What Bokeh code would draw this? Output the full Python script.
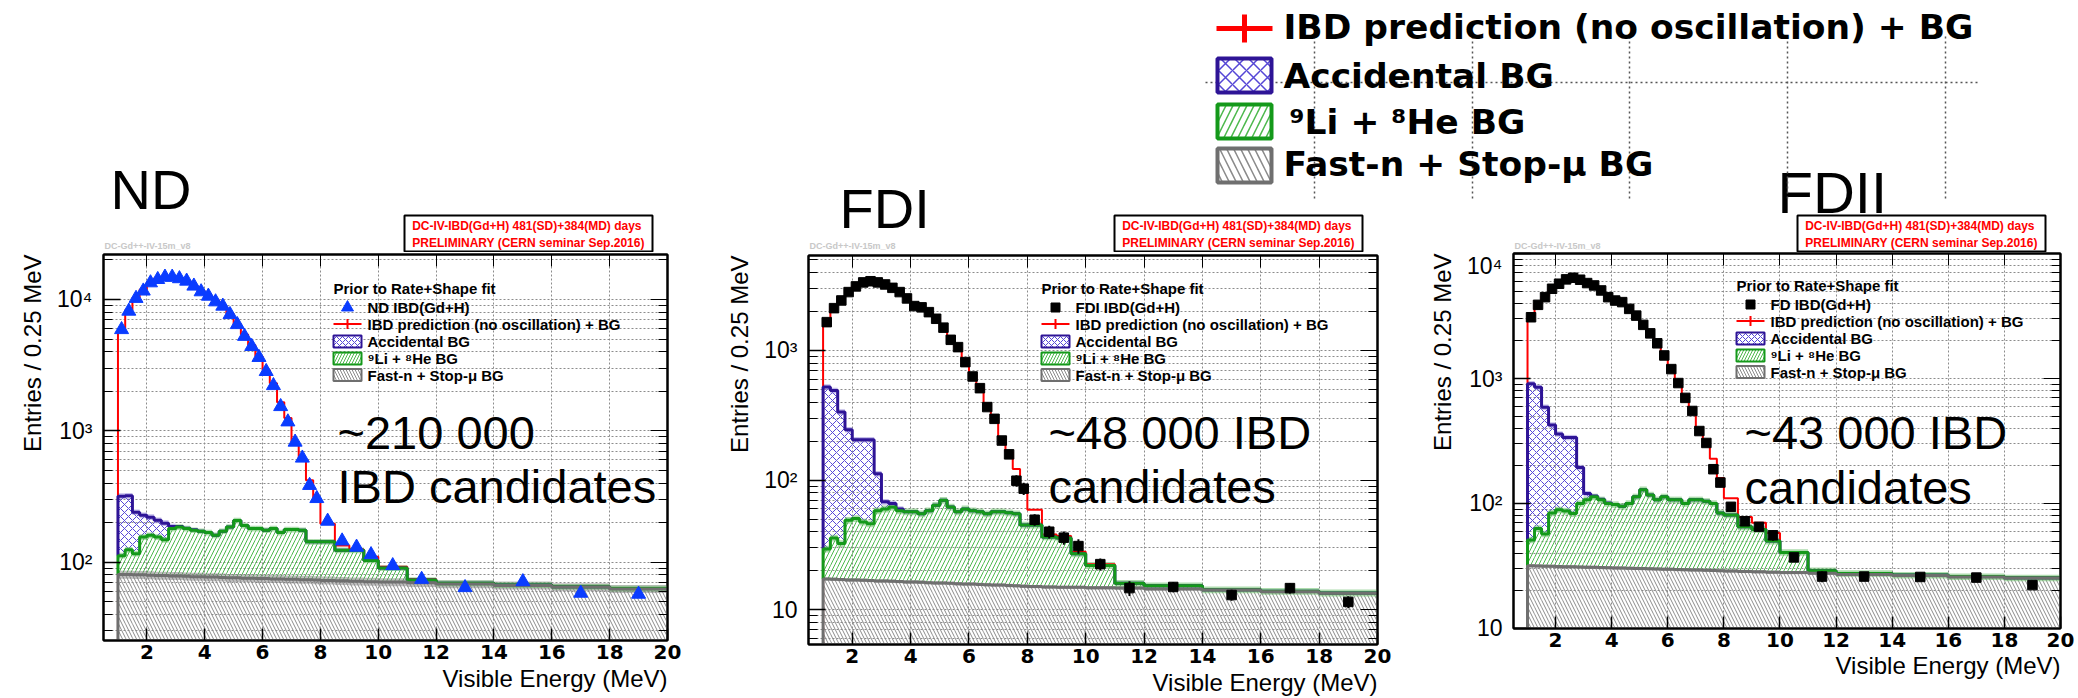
import math
from bokeh.plotting import figure
from bokeh.layouts import column, row
from bokeh.models import Range1d, LinearScale, FixedTicker, LinearAxis, LogAxis, Title
from bokeh.core.properties import value
from bokeh.embed import file_html
from bokeh.resources import INLINE

# ---------------------------------------------------------------- data
bin_edges = [1.0, 1.25, 1.5, 1.75, 2.0, 2.25, 2.5, 2.75, 3.0, 3.25, 3.5, 3.75,
             4.0, 4.25, 4.5, 4.75, 5.0, 5.25, 5.5, 5.75, 6.0, 6.25, 6.5, 6.75,
             7.0, 7.25, 7.5, 7.75, 8.0, 8.5, 9.0, 9.5, 10.0, 11.0, 12.0, 14.0,
             16.0, 18.0, 20.0]
x_tick_values = [2, 4, 6, 8, 10, 12, 14, 16, 18, 20]

# ND (entries / 0.25 MeV)
nd_data = [5900, 8150, 10200, 11600, 13400, 14200, 14800, 14800, 14400, 13800,
           12650, 11450, 10600, 9600, 8900, 7680, 6440, 5240, 4390, 3620,
           2830, 2210, 1530, 1170, 820, 620, 384, 305,
           205, 145, 130, 114, 94, 74, 64, 71, 58, 57]
nd_pred = [5800, 8300, 10300, 11900, 13600, 14500, 15000, 15000, 14600, 13900,
           12800, 11600, 10700, 9800, 8900, 7800, 6500, 5400, 4500, 3700,
           2900, 2300, 1650, 1250, 800, 595, 420, 295,
           196, 134, 125, 110, 92, 74, 69, 67, 65, 63]
nd_fastn = [80.5, 80.5, 80, 80, 79.5, 79, 79, 78.5, 78.5, 78,
            77.5, 77.5, 77, 77, 76.5, 76, 76, 75.5, 75.5, 75,
            75, 74.5, 74.5, 74, 74, 73.5, 73.5, 73,
            72.5, 72, 71.5, 71, 70.5, 69.5, 68, 66.5, 64.5, 62.5]
nd_fastn_li = [112, 124, 116, 155, 160, 155, 148, 180, 185, 180,
               175, 172, 168, 160, 172, 185, 207, 190, 180, 180,
               175, 180, 168, 177, 177, 175, 143, 143,
               143, 123, 123, 103, 90, 73, 69, 67, 65, 63]
nd_bg_total = [318, 320, 240, 227, 220, 208, 198, 187, 187, 181,
               176, 172, 168, 160, 172, 185, 207, 190, 180, 180,
               175, 180, 168, 177, 177, 175, 143, 143,
               143, 123, 123, 103, 90, 73, 69, 67, 65, 63]

# FDI
fd1_data = [1654, 2120, 2430, 2820, 3120, 3350, 3420, 3350, 3230, 3040,
            2820, 2520, 2200, 2150, 1975, 1755, 1500, 1208, 1061, 813,
            630, 512, 366, 297, 202, 158, 99, 86,
            49.5, 40, 36, 31, 22.5, 14.7, 15, 13, 14.7, 11.5]
fd1_pred = [1750, 2200, 2500, 2850, 3150, 3380, 3450, 3400, 3280, 3080,
            2850, 2550, 2250, 2150, 1980, 1780, 1500, 1230, 1060, 830,
            650, 520, 390, 300, 215, 165, 122, 83,
            59, 38, 37, 28, 22.5, 16, 15.3, 14.3, 13.9, 13.5]
fd1_fastn = [17.3, 17.2, 17.1, 17.0, 17.0, 16.9, 16.8, 16.7, 16.7, 16.6,
             16.5, 16.4, 16.4, 16.3, 16.2, 16.1, 16.1, 16.0, 15.9, 15.8,
             15.8, 15.7, 15.6, 15.5, 15.5, 15.4, 15.3, 15.2,
             15.1, 15.0, 14.9, 14.9, 14.8, 14.7, 14.5, 14.2, 13.8, 13.4]
fd1_fastn_li = [29.4, 35.8, 32.5, 49, 50.5, 47.5, 46, 58, 60, 62,
                58, 57, 57, 55, 58, 64, 70, 62, 57, 60,
                58, 57, 55, 57, 57, 56, 55, 45,
                45, 36.5, 35.8, 27, 22, 16, 15.3, 14.3, 13.9, 13.5]
fd1_bg_total = [522, 491, 335, 245, 205, 205, 205, 112, 68, 66,
                60, 57, 57, 55, 58, 64, 70, 62, 57, 60,
                58, 57, 55, 57, 57, 56, 55, 45,
                45, 36.5, 35.8, 27, 22, 16, 15.3, 14.3, 13.9, 13.5]

# FDII
fd2_data = [3095, 3890, 4480, 5230, 5740, 6220, 6410, 6180, 5810, 5560,
            5070, 4480, 4210, 4090, 3610, 3190, 2690, 2300, 1915, 1530,
            1190, 920, 700, 550, 380, 305, 188, 147,
            94, 72, 65, 55.6, 37, 26, 26, 25.8, 25.5, 22.2]
fd2_pred = [3200, 4000, 4550, 5300, 5800, 6300, 6500, 6250, 5900, 5600,
            5150, 4550, 4250, 4100, 3650, 3250, 2750, 2350, 1950, 1560,
            1230, 950, 720, 560, 400, 310, 228, 160,
            110, 78, 70, 58, 40.5, 29, 27.5, 26.7, 26, 25.4]
fd2_fastn = [31.7, 31.6, 31.5, 31.4, 31.3, 31.2, 31.1, 31.0, 30.9, 30.8,
             30.7, 30.6, 30.5, 30.4, 30.3, 30.2, 30.1, 30.0, 29.9, 29.8,
             29.7, 29.6, 29.5, 29.4, 29.3, 29.2, 29.1, 29.0,
             28.8, 28.6, 28.4, 28.2, 28.0, 27.6, 27.0, 26.5, 25.8, 25.3]
fd2_fastn_li = [51, 63, 57, 84, 89, 87, 83, 100, 107, 113,
                107, 100, 98, 95, 100, 113, 129, 117, 107, 113,
                107, 107, 100, 107, 107, 104, 100, 84,
                81, 65, 62, 50, 40.5, 29, 27.5, 26.7, 26, 25.4]
fd2_bg_total = [910, 850, 590, 425, 360, 337, 337, 194, 120, 115,
                108, 101, 98, 95, 100, 113, 129, 117, 107, 113,
                107, 107, 100, 107, 107, 104, 100, 84,
                81, 65, 62, 50, 40.5, 29, 27.5, 26.7, 26, 25.4]

# relative widths of the shaded systematic bands
nd_band = {"fastn": 0.07, "li": 0.05, "acc": 0.05}
fd_band = {"fastn": 0.03, "li": 0.06, "acc": 0.05}

# ---------------------------------------------------------------- styles
HEADER_H = 252
PANEL_H = 698 - HEADER_H
FONT = "Liberation Sans"
RED = "#ff0000"
ACC = dict(line="#2e1496", hatch="#5546d6", pattern="x", scale=8, band="#8a7bd6")
LI = dict(line="#14991a", hatch="#4cb84c", pattern="/", scale=8, band="#6cbf6c")
FASTN = dict(line="#6f6f6f", hatch="#8a8a8a", pattern="\\", scale=7, band="#7d7d7d")

lefts = bin_edges[:-1]
rights = bin_edges[1:]
centers = [(a + b) / 2 for a, b in zip(lefts, rights)]
widths = [b - a for a, b in zip(lefts, rights)]
LEG_OFFS = [19, 35.5, 53, 70, 86.5]


def no_frame_align(p):
    if "frame_align" in p.properties():
        p.frame_align = False


def step_xy(vals, base):
    return [bin_edges[0]] + bin_edges, [base] + list(vals) + [vals[-1]]


def log_ticks(lo, hi):
    majors, minors = [], []
    d = 1
    while d <= 100000:
        if lo <= d <= hi:
            majors.append(d)
        for k in range(2, 10):
            if lo <= k * d <= hi:
                minors.append(k * d)
        d *= 10
    return majors, minors


def make_panel(cfg):
    W = cfg["width"]
    L, R, T, B = cfg["borders"]
    fw, fh = W - L - R, PANEL_H - T - B
    ylo, yhi = cfg["y_range"]
    p = figure(width=W, height=PANEL_H, x_range=Range1d(0.5, 20.0),
               y_range=Range1d(ylo, yhi), y_axis_type="log",
               output_backend="svg", toolbar_location=None,
               min_border_left=L, min_border_right=R, min_border_top=T,
               min_border_bottom=B, outline_line_color="black",
               outline_line_width=2)
    no_frame_align(p)
    p.extra_x_ranges = {"px": Range1d(0, fw)}
    p.extra_y_ranges = {"py": Range1d(0, fh)}
    p.extra_x_scales = {"px": LinearScale()}
    p.extra_y_scales = {"py": LinearScale()}

    # ---- axes / ticks / grid
    xt = FixedTicker(ticks=x_tick_values)
    majors, minors = log_ticks(ylo, yhi)
    yt = FixedTicker(ticks=majors, minor_ticks=minors)
    xa = p.xaxis[0]
    xa.ticker = xt
    xa.major_tick_in, xa.major_tick_out = 12, 0
    xa.minor_tick_in, xa.minor_tick_out = 0, 0
    xa.axis_line_width = 2
    xa.major_tick_line_width = 1.5
    xa.major_label_text_font = "DejaVu Sans"
    xa.major_label_text_font_style = "bold"
    xa.major_label_text_font_size = "20px"
    xa.major_label_text_color = "black"
    xa.major_label_standoff = 4
    ya = p.yaxis[0]
    ya.ticker = yt
    ya.major_tick_in, ya.major_tick_out = 17, 0
    ya.minor_tick_in, ya.minor_tick_out = 9, 0
    ya.axis_line_width = 2
    ya.major_tick_line_width = 1.5
    ya.major_label_overrides = {10: "10", 100: "10²", 1000: "10³", 10000: "10⁴"}
    ya.major_label_text_font = FONT
    ya.major_label_text_font_size = "23px"
    ya.major_label_text_color = "black"
    ya.major_label_standoff = 11
    top = LinearAxis(ticker=xt, major_tick_in=12, major_tick_out=0,
                     minor_tick_in=0, minor_tick_out=0, axis_line_width=2,
                     major_label_text_font_size="1px",
                     major_label_text_color=None, major_label_standoff=0)
    right = LogAxis(ticker=yt, major_tick_in=17, major_tick_out=0,
                    minor_tick_in=9, minor_tick_out=0, axis_line_width=2,
                    major_label_text_font_size="1px",
                    major_label_text_color=None, major_label_standoff=0)
    p.add_layout(top, "above")
    p.add_layout(right, "right")
    p.xgrid.ticker = xt
    p.ygrid.ticker = yt
    for g in (p.xgrid, p.ygrid):
        g.grid_line_color = "#8c8c8c"
        g.grid_line_dash = "2 2"
        g.grid_line_width = 1
    p.ygrid.minor_grid_line_color = "#8c8c8c"
    p.ygrid.minor_grid_line_dash = "2 2"

    # axis titles (ROOT style: right / top aligned)
    p.add_layout(Title(text="Visible Energy (MeV)", align="right", text_font=FONT,
                       text_font_size="24px", text_font_style="normal",
                       text_color="black", standoff=cfg["xlabel_standoff"]), "below")
    p.add_layout(Title(text="Entries / 0.25 MeV", align="right", text_font=FONT,
                       text_font_size="24px", text_font_style="normal",
                       text_color="black", standoff=17), "left")

    fastn, fli, tot = cfg["fastn"], cfg["fastn_li"], cfg["bg_total"]
    floor = ylo * 0.5
    n = len(lefts)
    band = cfg["band"]

    # ---- hatched stacked backgrounds
    p.quad(left=lefts, right=rights, bottom=[floor] * n, top=fastn,
           fill_color=None, line_color=None, hatch_pattern=FASTN["pattern"],
           hatch_color=FASTN["hatch"], hatch_scale=FASTN["scale"], hatch_weight=1)
    p.quad(left=lefts, right=rights, bottom=fastn, top=fli,
           fill_color=None, line_color=None, hatch_pattern=LI["pattern"],
           hatch_color=LI["hatch"], hatch_scale=LI["scale"], hatch_weight=1)
    p.quad(left=lefts, right=rights, bottom=fli, top=tot,
           fill_color=None, line_color=None, hatch_pattern=ACC["pattern"],
           hatch_color=ACC["hatch"], hatch_scale=ACC["scale"], hatch_weight=1)

    # ---- systematic bands
    p.quad(left=lefts, right=rights,
           bottom=[v * (1 - band["fastn"]) for v in fastn],
           top=[v * (1 + band["fastn"]) for v in fastn],
           fill_color=FASTN["band"], fill_alpha=0.5, line_color=None)
    p.quad(left=lefts, right=rights,
           bottom=[v * (1 - band["li"]) for v in fli],
           top=[v * (1 + band["li"]) for v in fli],
           fill_color=LI["band"], fill_alpha=0.55, line_color=None)
    sel = [i for i in range(n) if tot[i] > fli[i] * 1.02]
    p.quad(left=[lefts[i] for i in sel], right=[rights[i] for i in sel],
           bottom=[tot[i] * (1 - band["acc"]) for i in sel],
           top=[tot[i] * (1 + band["acc"]) for i in sel],
           fill_color=ACC["band"], fill_alpha=0.5, line_color=None)

    # ---- histogram outlines
    xs, ys = step_xy(cfg["pred"], floor)
    p.step(x=xs, y=ys, mode="after", line_color=RED, line_width=2)
    xs, ys = step_xy(tot, fli[0])
    p.step(x=xs, y=ys, mode="after", line_color=ACC["line"], line_width=3)
    xs, ys = step_xy(fli, fastn[0])
    p.step(x=xs, y=ys, mode="after", line_color=LI["line"], line_width=3)
    xs, ys = step_xy(fastn, floor)
    p.step(x=xs, y=ys, mode="after", line_color=FASTN["line"], line_width=3)

    # ---- data points with Poisson error bars
    data = cfg["data"]
    err = [math.sqrt(v * 0.25 / w) for v, w in zip(data, widths)]
    p.segment(x0=centers, y0=[v - e for v, e in zip(data, err)],
              x1=centers, y1=[v + e for v, e in zip(data, err)],
              line_color=cfg["marker_color"], line_width=2)
    p.scatter(x=centers, y=data, marker=cfg["marker"], size=cfg["marker_size"],
              color=cfg["marker_color"])

    # ---- in-frame legend (frame pixel coordinates)
    kw = dict(x_range_name="px", y_range_name="py")
    lx = cfg["leg_x"]
    ty = fh - cfg["leg_top"]
    p.text(x=[lx], y=[ty], text=["Prior to Rate+Shape fit"],
           text_font=value(FONT), text_font_style="bold", text_font_size="15px",
           text_baseline="middle", text_color="black", **kw)
    ys = [ty - o for o in LEG_OFFS]
    gx0, gx1, gc = lx, lx + 28, lx + 14
    p.scatter(x=[gc], y=[ys[0]], marker=cfg["marker"], size=cfg["leg_marker_size"],
              color=cfg["marker_color"], **kw)
    p.segment(x0=[gx0], y0=[ys[1]], x1=[gx1], y1=[ys[1]], line_color=RED,
              line_width=2, **kw)
    p.segment(x0=[gc], y0=[ys[1] - 5], x1=[gc], y1=[ys[1] + 5], line_color=RED,
              line_width=2, **kw)
    for y, st in zip(ys[2:], [ACC, LI, FASTN]):
        p.quad(left=[gx0], right=[gx1], bottom=[y - 6], top=[y + 6],
               fill_color="white", line_color=st["line"], line_width=2,
               hatch_pattern=st["pattern"], hatch_color=st["hatch"],
               hatch_scale=6, hatch_weight=1, **kw)
    labels = [cfg["data_label"], "IBD prediction (no oscillation) + BG",
              "Accidental BG", "⁹Li +  ⁸He BG", "Fast-n + Stop-μ BG"]
    p.text(x=[lx + 34] * 5, y=ys, text=labels, text_font=value(FONT),
           text_font_style="bold", text_font_size="15px",
           text_baseline="middle", text_color="black", **kw)

    # ---- candidate-count text (frame pixel coordinates)
    p.text(x=[cfg["big_x"]] * 2, y=cfg["big_y"], text=cfg["big_text"],
           text_font=value(FONT), text_font_size="47px", text_baseline="middle",
           text_color="black", **kw)
    return p


panels = [
    dict(x0=0, width=700, borders=(103, 33, 2, 58), y_range=(25.3, 22000),
         data=nd_data, pred=nd_pred, fastn=nd_fastn, fastn_li=nd_fastn_li,
         bg_total=nd_bg_total, band=nd_band, marker="triangle", marker_size=14,
         leg_marker_size=12, marker_color="#0a3cff", data_label="ND IBD(Gd+H)",
         leg_x=230, leg_top=34, big_text=["~210 000", "IBD candidates"],
         big_x=234, big_y=[208, 154], xlabel_standoff=3),
    dict(x0=700, width=700, borders=(108, 23, 3, 54), y_range=(5.4, 5400),
         data=fd1_data, pred=fd1_pred, fastn=fd1_fastn, fastn_li=fd1_fastn_li,
         bg_total=fd1_bg_total, band=fd_band, marker="square", marker_size=9.5,
         leg_marker_size=9, marker_color="black", data_label="FDI IBD(Gd+H)",
         leg_x=233, leg_top=33, big_text=["~48 000 IBD", "candidates"],
         big_x=240, big_y=[212, 158], xlabel_standoff=3),
    dict(x0=1400, width=678, borders=(113, 18, 1, 70), y_range=(9.98, 10020),
         data=fd2_data, pred=fd2_pred, fastn=fd2_fastn, fastn_li=fd2_fastn_li,
         bg_total=fd2_bg_total, band=fd_band, marker="square", marker_size=9.5,
         leg_marker_size=9, marker_color="black", data_label="FD IBD(Gd+H)",
         leg_x=223, leg_top=32, big_text=["~43 000 IBD", "candidates"],
         big_x=231, big_y=[196, 141], xlabel_standoff=0),
]

panel_figs = [make_panel(c) for c in panels]

# ---------------------------------------------------------------- header (titles, pasted legend, stamps)
hdr = figure(width=2078, height=HEADER_H, x_range=Range1d(0, 2078),
             y_range=Range1d(HEADER_H, 0), x_axis_type=None, y_axis_type=None,
             min_border=0, outline_line_color=None, output_backend="svg",
             toolbar_location=None)
no_frame_align(hdr)
hdr.text(x=[110, 839], y=[188.5, 207.5], text=["ND", "FDI"], text_font=value(FONT),
         text_font_size="56px", text_baseline="middle", text_color="black")
hdr.text(x=[1777], y=[191.5], text=["FDII"], text_font=value(FONT),
         text_font_size="58px", text_baseline="middle", text_color="black")

grid_v = [1314, 1472, 1629, 1787, 1945]
hdr.segment(x0=[1205], y0=[82], x1=[1978], y1=[82], line_color="#555555",
            line_width=1.5, line_dash="2 3")
hdr.segment(x0=grid_v, y0=[36] * 5, x1=grid_v, y1=[200] * 5, line_color="#555555",
            line_width=1.5, line_dash="2 3")

hdr.segment(x0=[1216], y0=[28], x1=[1272], y1=[28], line_color=RED, line_width=5)
hdr.segment(x0=[1244], y0=[14], x1=[1244], y1=[42], line_color=RED, line_width=5)
for (y0, y1), st in zip([(58, 92), (104, 138), (148, 182)], [ACC, LI, FASTN]):
    hdr.quad(left=[1217], right=[1271], top=[y0], bottom=[y1], fill_color="white",
             line_color=st["line"], line_width=4, hatch_pattern=st["pattern"],
             hatch_color=st["hatch"], hatch_scale=14, hatch_weight=1.5)
hdr.text(x=[1283, 1283, 1289, 1283], y=[26, 75, 121, 163],
         text=["IBD prediction (no oscillation) + BG", "Accidental BG",
               "⁹Li +  ⁸He BG", "Fast-n + Stop-μ BG"],
         text_font=value("DejaVu Sans"), text_font_style="bold",
         text_font_size="34.5px", text_baseline="middle", text_color="black")

# red "exposure" stamps and the small gray tag above each frame
stamp_cx = [c["x0"] + c["borders"][0] + (c["width"] - c["borders"][0] - c["borders"][1]) - 139
            for c in panels]
frame_x0 = [c["x0"] + c["borders"][0] for c in panels]
hdr.quad(left=[cx - 124 for cx in stamp_cx], right=[cx + 124 for cx in stamp_cx],
         top=[215] * 3, bottom=[251] * 3, fill_color="white", line_color="black",
         line_width=2)
hdr.text(x=stamp_cx, y=[225] * 3,
         text=["DC-IV-IBD(Gd+H)  481(SD)+384(MD) days"] * 3,
         text_font=value(FONT), text_font_style="bold", text_font_size="12px",
         text_align="center", text_baseline="middle", text_color=RED)
hdr.text(x=stamp_cx, y=[242] * 3,
         text=["PRELIMINARY (CERN seminar Sep.2016)"] * 3,
         text_font=value(FONT), text_font_style="bold", text_font_size="12px",
         text_align="center", text_baseline="middle", text_color=RED)
hdr.text(x=[x + 1 for x in frame_x0], y=[245] * 3, text=["DC-Gd++-IV-15m_v8"] * 3,
         text_font=value(FONT), text_font_style="bold", text_font_size="9px",
         text_baseline="middle", text_color="#c8c8c8")

layout = column(hdr, row(*panel_figs))
open("out.html", "w").write(file_html(layout, INLINE))
